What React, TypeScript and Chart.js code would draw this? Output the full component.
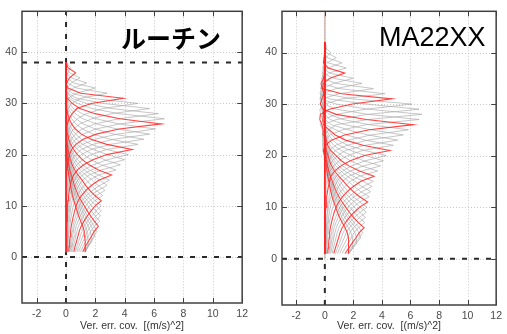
import React, { useEffect, useRef } from "react";
import { Chart, registerables } from "chart.js";

Chart.register(...registerables);

// ---------- data ----------
const xTickValues = [-2, 0, 2, 4, 6, 8, 10, 12];
const yTickValues = [0, 10, 20, 30, 40];
const redLevels = [1, 6, 11, 16, 21, 26, 31, 36];
const xAxisTitle = "Ver. err. cov.  [(m/s)^2]";

const leftTitle = "ルーチン";
const leftLevels = [
  1, 2, 3, 4, 5, 6, 7, 8, 9, 10, 11, 12, 13, 14, 15, 16, 17, 18, 19,
  20, 21, 22, 23, 24, 25, 26, 27, 28, 29, 30, 31, 32, 33, 34, 35, 36, 37, 38,
];
// error variance at each level (peak of each profile)
const leftVariance = [
  1.3, 1.5, 1.75, 1.95, 2.1, 2.2, 2.3, 2.35, 2.4, 2.4, 2.4, 2.5, 2.65, 2.8,
  2.95, 3.1, 3.4, 3.7, 4.0, 4.25, 4.5, 4.9, 5.3, 5.7, 6.1, 6.5, 6.7, 6.3, 5.7,
  4.9, 3.9, 2.8, 2.0, 1.4, 0.95, 0.65, 0.3, 0.03,
];
// vertical correlation length (levels) at each level
const leftCorrLength = [
  14, 14, 14, 14, 14, 6.5, 6.5, 6.5, 6.5, 6.5, 4.5, 4.5, 4.5, 4.5, 4.5, 2.6,
  2.6, 2.6, 2.6, 2.6, 1.9, 1.9, 1.9, 1.9, 1.9, 1.7, 1.7, 1.7, 1.4, 1.4, 1.0,
  1.0, 1.0, 1.0, 1.0, 1.0, 1.0, 1.0,
];
// strength of the negative side lobes
const leftLobe = [
  0, 0, 0, 0, 0, 0, 0, 0, 0, 0, 0, 0, 0, 0, 0, 0, 0, 0, 0, 0, 0, 0, 0, 0, 0,
  0, 0, 0, 0.3, 0.3, 0.6, 0.6, 0.6, 0.6, 0.6, 0.6, 0.6, 0.6,
];
const leftDashedY = [0, 38];

const rightTitle = "MA22XX";
const rightLevels = [
  1, 2, 3, 4, 5, 6, 7, 8, 9, 10, 11, 12, 13, 14, 15, 16, 17, 18, 19, 20, 21,
  22, 23, 24, 25, 26, 27, 28, 29, 30, 31, 32, 33, 34, 35, 36, 37, 38, 39, 40,
  41, 42,
];
const rightVariance = [
  1.65, 1.95, 2.25, 2.5, 2.65, 2.75, 2.8, 2.85, 2.9, 2.95, 3.0, 3.1, 3.2, 3.3,
  3.4, 3.45, 3.7, 3.9, 4.1, 4.3, 4.55, 4.8, 5.1, 5.5, 5.85, 6.2, 6.6, 6.8, 6.6,
  6.1, 4.7, 4.2, 3.4, 2.6, 2.0, 1.4, 1.5, 1.2, 0.8, 0.4, 0.14, 0.03,
];
const rightCorrLength = [
  14, 14, 14, 14, 14, 6, 6, 6, 6, 6, 4.5, 4.5, 4.5, 4.5, 4.5, 2.6, 2.6, 2.6,
  2.6, 2.6, 1.9, 1.9, 1.9, 1.9, 1.9, 1.6, 1.6, 1.6, 1.6, 1.6, 1.2, 1.2, 1.2,
  1.2, 1.2, 1.0, 1.0, 1.0, 1.0, 1.0, 1.0, 1.0,
];
const rightLobe = [
  0, 0, 0, 0, 0, 0, 0, 0, 0, 0, 0, 0, 0, 0, 0, 0.2, 0.2, 0.2, 0.2, 0.2, 0.5,
  0.5, 0.5, 0.5, 0.5, 0.9, 0.9, 0.9, 0.9, 0.9, 1.1, 1.1, 1.1, 1.1, 1.1, 1.1,
  1.1, 1.1, 1.1, 1.1, 1.1, 1.1,
];
const rightDashedY = [0];

// ---------- helpers ----------
type Pt = { x: number; y: number };

function buildCovRows(
  levels: number[],
  variance: number[],
  corrLength: number[],
  lobe: number[]
): Pt[][] {
  const z: number[] = [0];
  for (let k = 1; k < levels.length; k++) {
    z[k] =
      z[k - 1] +
      0.5 * (1 / corrLength[k - 1] + 1 / corrLength[k]) * (levels[k] - levels[k - 1]);
  }
  return levels.map((_, i) =>
    levels.map((lev, j) => {
      const r = Math.abs(z[i] - z[j]);
      const w = 0.5 * (lobe[i] + lobe[j]);
      const c = Math.sqrt(variance[i] * variance[j]) * Math.exp(-r) * Math.cos(w * r);
      return { x: c, y: lev };
    })
  );
}

type PanelSpec = {
  levels: number[];
  variance: number[];
  corrLength: number[];
  lobe: number[];
  dashedY: number[];
  vDashTo: number;
  zeroLineTop: number | null;
  yAxisWidth: number;
  padTop: number;
  padRight: number;
  xAxisHeight: number;
};

const FONT = "'Liberation Sans', Arial, sans-serif";

function makePlugin(spec: PanelSpec) {
  return {
    id: "gnuplotFrame",
    beforeDatasetsDraw(chart: any) {
      const { ctx, chartArea: a, scales } = chart;
      const x = scales.x;
      const y = scales.y;
      ctx.save();
      ctx.strokeStyle = "#c8c8c8";
      ctx.lineWidth = 1;
      ctx.setLineDash([1, 2]);
      for (const v of xTickValues) {
        const px = Math.round(x.getPixelForValue(v)) + 0.5;
        ctx.beginPath();
        ctx.moveTo(px, a.top);
        ctx.lineTo(px, a.bottom);
        ctx.stroke();
      }
      for (const v of yTickValues) {
        const py = Math.round(y.getPixelForValue(v)) + 0.5;
        ctx.beginPath();
        ctx.moveTo(a.left, py);
        ctx.lineTo(a.right, py);
        ctx.stroke();
      }
      const x0 = x.getPixelForValue(0);
      if (spec.zeroLineTop !== null) {
        ctx.setLineDash([]);
        ctx.strokeStyle = "rgba(190,160,150,0.9)";
        ctx.lineWidth = 1.2;
        ctx.beginPath();
        ctx.moveTo(x0, y.getPixelForValue(0));
        ctx.lineTo(x0, y.getPixelForValue(spec.zeroLineTop));
        ctx.stroke();
      }
      ctx.strokeStyle = "#2a2a2a";
      ctx.lineWidth = 2;
      ctx.setLineDash([5, 7]);
      for (const v of spec.dashedY) {
        const py = y.getPixelForValue(v);
        ctx.beginPath();
        ctx.moveTo(a.left, py);
        ctx.lineTo(a.right, py);
        ctx.stroke();
      }
      ctx.beginPath();
      ctx.moveTo(x0, a.bottom);
      ctx.lineTo(x0, y.getPixelForValue(spec.vDashTo));
      ctx.stroke();
      ctx.restore();
    },
    afterDatasetsDraw(chart: any) {
      const { ctx, chartArea: a, scales } = chart;
      const x = scales.x;
      const y = scales.y;
      ctx.save();
      ctx.strokeStyle = "#404040";
      ctx.lineWidth = 1;
      ctx.setLineDash([]);
      const t = 5;
      for (const v of xTickValues) {
        const px = Math.round(x.getPixelForValue(v)) + 0.5;
        ctx.beginPath();
        ctx.moveTo(px, a.bottom);
        ctx.lineTo(px, a.bottom - t);
        ctx.moveTo(px, a.top);
        ctx.lineTo(px, a.top + t);
        ctx.stroke();
      }
      for (const v of yTickValues) {
        const py = Math.round(y.getPixelForValue(v)) + 0.5;
        ctx.beginPath();
        ctx.moveTo(a.left, py);
        ctx.lineTo(a.left + t, py);
        ctx.moveTo(a.right, py);
        ctx.lineTo(a.right - t, py);
        ctx.stroke();
      }
      ctx.lineWidth = 1.5;
      ctx.strokeRect(a.left, a.top, a.right - a.left, a.bottom - a.top);
      ctx.restore();
    },
  };
}

function Panel({ spec, left }: { spec: PanelSpec; left: number }) {
  const ref = useRef<HTMLCanvasElement>(null);
  useEffect(() => {
    const rows = buildCovRows(spec.levels, spec.variance, spec.corrLength, spec.lobe);
    const datasets = spec.levels.map((lev, i) => {
      const red = redLevels.includes(lev);
      return {
        data: rows[i],
        showLine: true,
        borderColor: red ? "rgba(255,35,35,0.85)" : "rgba(165,165,165,0.7)",
        borderWidth: red ? 1.1 : 0.9,
        pointRadius: 0,
        tension: 0,
        order: red ? 0 : 1,
      };
    });
    const chart = new Chart(ref.current as HTMLCanvasElement, {
      type: "scatter",
      data: { datasets },
      options: {
        animation: false,
        responsive: false,
        events: [],
        layout: {
          autoPadding: false,
          padding: { left: 0, top: spec.padTop, right: spec.padRight, bottom: 0 },
        },
        plugins: { legend: { display: false }, tooltip: { enabled: false } },
        scales: {
          x: {
            type: "linear",
            min: -3,
            max: 12,
            afterBuildTicks: (s: any) => {
              s.ticks = xTickValues.map((v) => ({ value: v }));
            },
            afterFit: (s: any) => {
              s.height = spec.xAxisHeight;
            },
            grid: { display: false, drawTicks: false },
            border: { display: false },
            ticks: {
              color: "#4a4a4a",
              font: { family: FONT, size: 10.5 },
              padding: 5,
              maxRotation: 0,
              autoSkip: false,
            },
            title: {
              display: true,
              text: xAxisTitle,
              color: "#333",
              font: { family: FONT, size: 10.5 },
              padding: { top: 0, bottom: 1.5 },
            },
          },
          y: {
            type: "linear",
            min: -9,
            max: 48,
            afterBuildTicks: (s: any) => {
              s.ticks = yTickValues.map((v) => ({ value: v }));
            },
            afterFit: (s: any) => {
              s.width = spec.yAxisWidth;
            },
            grid: { display: false, drawTicks: false },
            border: { display: false },
            ticks: {
              color: "#4a4a4a",
              font: { family: FONT, size: 10.5 },
              padding: 5,
              autoSkip: false,
            },
          },
        },
      },
      plugins: [makePlugin(spec)],
    } as any);
    return () => chart.destroy();
  }, [spec]);
  return (
    <canvas
      ref={ref}
      width={253}
      height={334}
      style={{ position: "absolute", left, top: 0, width: 253, height: 334 }}
    />
  );
}

const leftSpec: PanelSpec = {
  levels: leftLevels,
  variance: leftVariance,
  corrLength: leftCorrLength,
  lobe: leftLobe,
  dashedY: leftDashedY,
  vDashTo: 48,
  zeroLineTop: null,
  yAxisWidth: 22,
  padTop: 10,
  padRight: 8,
  xAxisHeight: 31,
};

const rightSpec: PanelSpec = {
  levels: rightLevels,
  variance: rightVariance,
  corrLength: rightCorrLength,
  lobe: rightLobe,
  dashedY: rightDashedY,
  vDashTo: 0,
  zeroLineTop: 48,
  yAxisWidth: 28,
  padTop: 9,
  padRight: 3,
  xAxisHeight: 29,
};

export default function App() {
  return (
    <div
      style={{
        position: "absolute",
        left: 0,
        top: 0,
        width: 507,
        height: 334,
        background: "#fff",
        overflow: "hidden",
      }}
    >
      <Panel spec={leftSpec} left={0} />
      <Panel spec={rightSpec} left={254} />
      <div
        style={{
          position: "absolute",
          left: 121,
          top: 25,
          fontFamily: "'Noto Sans CJK JP', sans-serif",
          fontWeight: 700,
          fontSize: 25,
          lineHeight: "25px",
          color: "#000",
          whiteSpace: "nowrap",
        }}
      >
        {leftTitle}
      </div>
      <div
        style={{
          position: "absolute",
          left: 379,
          top: 24,
          fontFamily: FONT,
          fontWeight: 400,
          fontSize: 27,
          lineHeight: "27px",
          color: "#000",
          whiteSpace: "nowrap",
        }}
      >
        {rightTitle}
      </div>
    </div>
  );
}
